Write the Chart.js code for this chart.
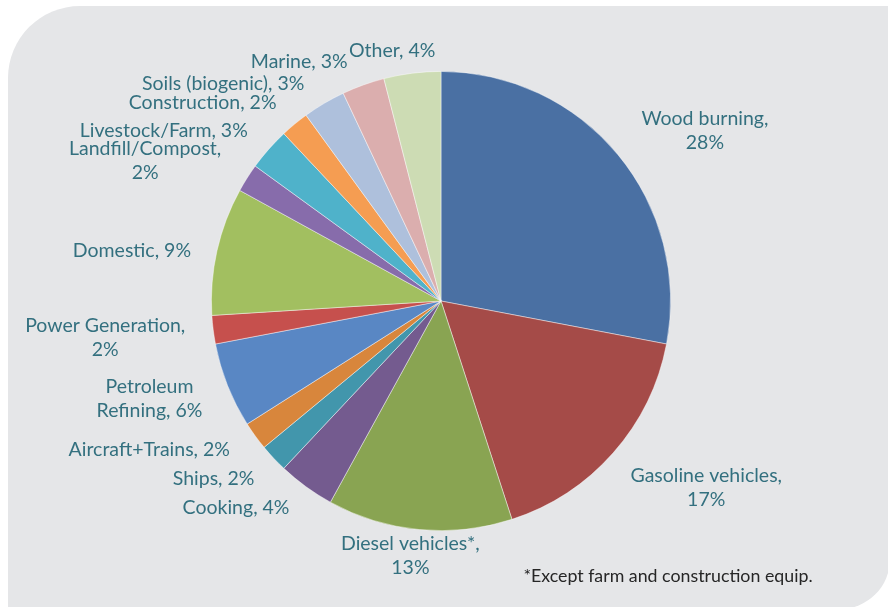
<!DOCTYPE html>
<html>
<head>
<meta charset="utf-8">
<script src="https://cdn.jsdelivr.net/npm/chart.js@4"></script>
<style>
  html, body { margin: 0; padding: 0; background: #ffffff; }
  .panel {
    position: absolute; left: 8px; top: 6px; width: 882px; height: 603px;
    background: #e5e6e8;
    border-radius: 72px 0 50px 0;
  }
  .wrap { position: absolute; left: 0; top: 0; width: 888px; height: 607px; }
</style>
</head>
<body>
<div class="panel"></div>
<div class="wrap"><canvas id="pm"></canvas></div>
<script>
// ---------- data ----------
const sources = [
  'Wood burning', 'Gasoline vehicles', 'Diesel vehicles*', 'Cooking', 'Ships',
  'Aircraft+Trains', 'Petroleum Refining', 'Power Generation', 'Domestic',
  'Landfill/Compost', 'Livestock/Farm', 'Construction', 'Soils (biogenic)',
  'Marine', 'Other',
];
const shares = [28, 17, 13, 4, 2, 2, 6, 2, 9, 2, 3, 2, 3, 3, 4];
const footnote = '*Except farm and construction equip.';

// how each label wraps: 'pct' = percent on 2nd line, 'word' = after 1st word
const wrapMode = ['pct', 'pct', 'pct', null, null, null, 'word', 'pct', null, 'pct', null, null, null, null, null];

// nudge of each label block centre away from the slice's outer mid point
const nudge = [
  [87, -24], [93, 35], [-9, 26], [-70, 21], [-60, 21],
  [-106, 14], [-78, 13], [-108, 8], [-85, 0], [-102, -17],
  [-105, -18], [-92, -21], [-101, -20], [-64, -23], [-20, -22],
];

function labelLines(i) {
  const text = sources[i] + ', ' + shares[i] + '%';
  if (wrapMode[i] === 'pct') return [sources[i] + ',', shares[i] + '%'];
  if (wrapMode[i] === 'word') {
    const k = text.indexOf(' ');
    return [text.slice(0, k), text.slice(k + 1)];
  }
  return [text];
}

const outsideLabels = {
  id: 'outsideLabels',
  afterDatasetsDraw(chart) {
    const ctx = chart.ctx;
    const meta = chart.getDatasetMeta(0);
    ctx.save();
    ctx.font = '19.5px Lato, "Open Sans", sans-serif';
    ctx.fillStyle = '#33707f';
    ctx.textAlign = 'center';
    ctx.textBaseline = 'middle';
    const lh = 24;
    meta.data.forEach((arc, i) => {
      const p = arc.getProps(['x', 'y', 'startAngle', 'endAngle', 'outerRadius'], true);
      const mid = (p.startAngle + p.endAngle) / 2;
      const cx = p.x + Math.cos(mid) * p.outerRadius + nudge[i][0];
      const cy = p.y + Math.sin(mid) * p.outerRadius + nudge[i][1];
      const lines = labelLines(i);
      const y0 = cy - (lines.length - 1) * lh / 2;
      lines.forEach((ln, j) => ctx.fillText(ln, cx, y0 + j * lh));
    });
    // footnote
    ctx.fillStyle = '#262626';
    ctx.font = '17.8px Lato, "Open Sans", sans-serif';
    ctx.fillText(footnote, 668, 576);
    ctx.restore();
  },
};

new Chart(document.getElementById('pm'), {
  type: 'pie',
  data: {
    labels: sources,
    datasets: [{
      data: shares,
      backgroundColor: [
        '#4a70a3', '#a54b48', '#89a452', '#745b8f', '#4296ac',
        '#d8863c', '#5987c4', '#c6504d', '#a2bf60', '#876cab',
        '#4fb2ca', '#f59d52', '#aec0dc', '#dbaeae', '#cddcb4',
      ],
      borderColor: 'rgba(255,255,255,0.55)',
      borderWidth: 0.8,
    }],
  },
  options: {
    responsive: true,
    maintainAspectRatio: false,
    animation: false,
    layout: { padding: { left: 211, right: 217, top: 71, bottom: 76 } },
    plugins: { legend: { display: false }, tooltip: { enabled: false } },
  },
  plugins: [outsideLabels],
});
</script>
</body>
</html>
